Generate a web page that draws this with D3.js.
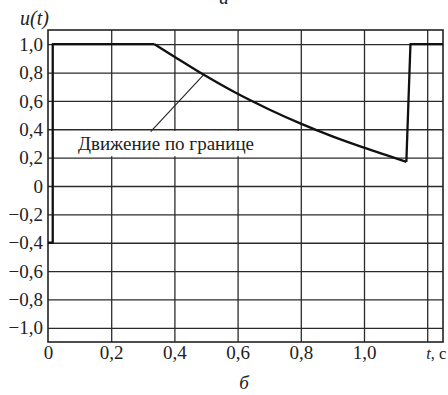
<!DOCTYPE html>
<html>
<head>
<meta charset="utf-8">
<script src="https://cdn.jsdelivr.net/npm/d3@7"></script>
<style>
  body { margin: 0; background: #fff; }
  svg { display: block; }
</style>
</head>
<body>
<svg id="chart" width="448" height="395"></svg>
<script>
const serif = '"Liberation Serif", "Times New Roman", serif';

// u(t) control signal
const startT = [0, 0.015, 0.015, 0.337];
const startU = [-0.4, -0.4, 1.0, 1.0];
const boundaryT = [0.337, 0.4, 0.5, 0.6, 0.7, 0.8, 0.9, 1.0, 1.134];
const boundaryU = [1.0, 0.912, 0.775, 0.65, 0.54, 0.44, 0.35, 0.27, 0.17];
const endT = [1.134, 1.147, 1.25];
const endU = [0.17, 1.0, 1.0];

const xTicks = [0, 0.2, 0.4, 0.6, 0.8, 1.0, 1.2];
const xTickLabels = ['0', '0,2', '0,4', '0,6', '0,8', '1,0', ''];
const yTicks = [1.0, 0.8, 0.6, 0.4, 0.2, 0, -0.2, -0.4, -0.6, -0.8, -1.0];
const yTickLabels = ['1,0', '0,8', '0,6', '0,4', '0,2', '0', '\u22120,2', '\u22120,4', '\u22120,6', '\u22120,8', '\u22121,0'];

const annotationText = 'Движение по границе';

const margin = { top: 30, right: 5, bottom: 53, left: 48 };
const width = 448 - margin.left - margin.right;
const height = 395 - margin.top - margin.bottom;

const svg = d3.select('#chart');
const g = svg.append('g')
  .attr('transform', `translate(${margin.left}, ${margin.top})`);

const x = d3.scaleLinear().domain([0, 1.25]).range([0, width]);
const y = d3.scaleLinear().domain([-1.1, 1.1]).range([height, 0]);

// grid lines
g.append('g')
  .attr('transform', `translate(0, ${height})`)
  .call(d3.axisBottom(x).tickValues(xTicks.slice(1)).tickSize(-height).tickFormat(''))
  .call(s => s.select('.domain').remove())
  .selectAll('line').attr('stroke', '#2b2b2b').attr('stroke-width', 1.3);

g.append('g')
  .call(d3.axisLeft(y).tickValues(yTicks).tickSize(-width).tickFormat(''))
  .call(s => s.select('.domain').remove())
  .selectAll('line').attr('stroke', '#2b2b2b').attr('stroke-width', 1.3);

// tick labels
const xAxis = g.append('g')
  .attr('transform', `translate(0, ${height})`)
  .call(d3.axisBottom(x).tickValues(xTicks).tickSize(0)
    .tickFormat((d, i) => xTickLabels[i]));
xAxis.select('.domain').remove();
xAxis.selectAll('text')
  .attr('y', 17).attr('dy', 0)
  .attr('font-size', 19).style('font-family', serif).attr('fill', '#222');

const yAxis = g.append('g')
  .call(d3.axisLeft(y).tickValues(yTicks).tickSize(0).tickPadding(5)
    .tickFormat((d, i) => yTickLabels[i]));
yAxis.select('.domain').remove();
yAxis.selectAll('text')
  .attr('dy', '0.32em')
  .attr('font-size', 19).style('font-family', serif).attr('fill', '#222');

// frame
g.append('rect')
  .attr('width', width).attr('height', height)
  .attr('fill', 'none').attr('stroke', '#222').attr('stroke-width', 1.6);

// annotation box + leader
g.append('rect')
  .attr('x', x(0.086)).attr('y', y(0.388))
  .attr('width', x(0.655) - x(0.086)).attr('height', y(0.21) - y(0.388))
  .attr('fill', '#fff');

g.append('line')
  .attr('x1', x(0.325)).attr('y1', y(0.384))
  .attr('x2', x(0.493)).attr('y2', y(0.785))
  .attr('stroke', '#222').attr('stroke-width', 1.1);

g.append('text')
  .attr('x', x(0.095)).attr('y', y(0.254))
  .attr('font-size', 19).style('font-family', serif).attr('fill', '#222')
  .text(annotationText);

// curve
const straight = d3.line().x(d => x(d[0])).y(d => y(d[1]));
const smooth = d3.line().x(d => x(d[0])).y(d => y(d[1])).curve(d3.curveMonotoneX);

const curveStyle = p => p.attr('fill', 'none').attr('stroke', '#111')
  .attr('stroke-width', 2.3).attr('stroke-linejoin', 'round');

g.append('path').datum(startT.map((t, i) => [t, startU[i]]))
  .attr('d', straight).call(curveStyle);
g.append('path').datum(boundaryT.map((t, i) => [t, boundaryU[i]]))
  .attr('d', smooth).call(curveStyle);
g.append('path').datum(endT.map((t, i) => [t, endU[i]]))
  .attr('d', straight).call(curveStyle);

// axis titles
svg.append('text')
  .attr('x', 20).attr('y', 25)
  .attr('font-size', 20).attr('font-style', 'italic')
  .style('font-family', serif).attr('fill', '#222')
  .text('u(t)');

svg.append('text')
  .attr('x', margin.left + x(1.2) - 1).attr('y', margin.top + height + 17)
  .attr('font-size', 16.5).style('font-family', serif).attr('fill', '#222')
  .html('<tspan font-style="italic">t</tspan>, с');

svg.append('text')
  .attr('x', 244).attr('y', 389)
  .attr('text-anchor', 'middle')
  .attr('font-size', 19).attr('font-style', 'italic')
  .style('font-family', serif).attr('fill', '#222')
  .text('б');

svg.append('text')
  .attr('x', 224).attr('y', 4)
  .attr('text-anchor', 'middle')
  .attr('font-size', 19).attr('font-style', 'italic')
  .style('font-family', serif).attr('fill', '#222')
  .text('а');
</script>
</body>
</html>
